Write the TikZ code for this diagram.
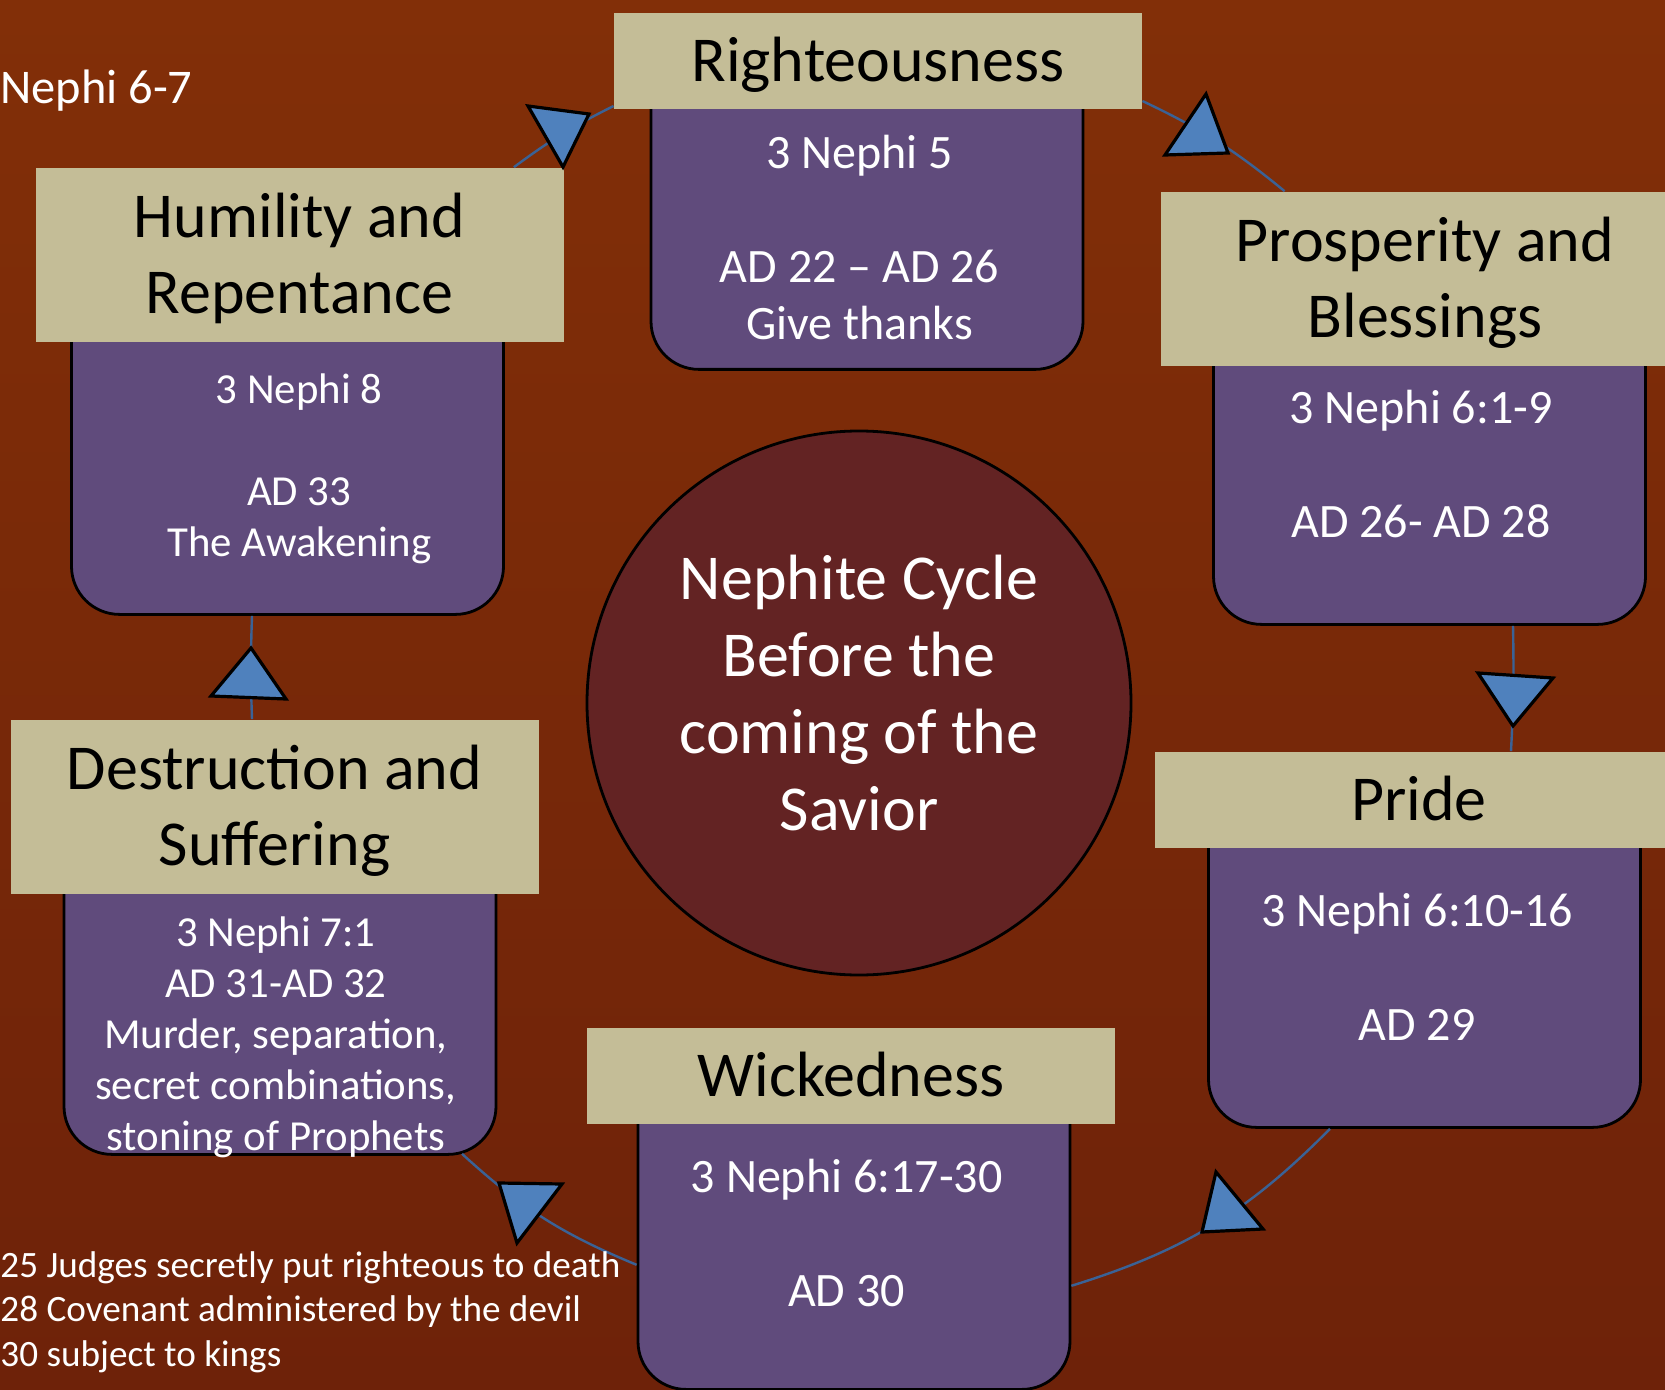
\documentclass[tikz,border=0pt]{standalone}
\usepackage{fontspec}
\setmainfont{Carlito}
\usepackage{tikz}
\usetikzlibrary{positioning}

\definecolor{bgtop}{RGB}{130,47,8}
\definecolor{bgbottom}{RGB}{110,34,9}
\definecolor{stagetan}{RGB}{196,189,151}
\definecolor{cardpurple}{RGB}{96,75,124}
\definecolor{cyclered}{RGB}{99,35,35}
\definecolor{lineblue}{RGB}{58,98,150}
\definecolor{tipblue}{RGB}{79,129,189}

% card body: height, first baseline, sideways shift, lines
\newcommand{\cardtext}[4]{\parbox[c][#1][t]{216pt}{\centering\leftskip=#3 plus 1fil\rule{0pt}{#2}#4}}

\begin{document}
\begin{tikzpicture}[x=0.5pt, y=-0.5pt]
\tikzstyle{stage} = [rectangle, fill=stagetan, text=black, minimum width=264pt, inner sep=0pt, text depth=1.5pt, align=center, font=\fontsize{32}{38.25}\selectfont]
\tikzstyle{card} = [rectangle, draw=black, line width=1.4pt, fill=cardpurple, rounded corners=24pt, inner sep=0pt, text=white, anchor=north, font=\fontsize{24}{28.5}\selectfont]
\tikzstyle{smalltext} = [font=\fontsize{21.4}{25.5}\selectfont]
\tikzstyle{cycleline} = [draw=lineblue, line width=1.2pt]
\tikzstyle{arrowtri} = [fill=tipblue, draw=black, line width=1.6pt, line join=miter]
\tikzstyle{note} = [text=white, inner sep=0pt, align=left]

\useasboundingbox (0,0) rectangle (1665,1390);
\shade[top color=bgtop, bottom color=bgbottom] (0,0) rectangle (1665,1390);

% cards
\node[card] (rightcard) at (867,49) {\cardtext{159.5pt}{59pt}{-7.4pt}{3 Nephi 5\\[\baselineskip]AD 22 -- AD 26\\Give thanks}};
\node[card] (prospcard) at (1429.5,306) {\cardtext{158.5pt}{58pt}{-8.5pt}{3 Nephi 6:1-9\\[\baselineskip]AD 26- AD 28}};
\node[card] (pridecard) at (1424.5,788) {\cardtext{169pt}{68.5pt}{-7.4pt}{3 Nephi 6:10-16\\[\baselineskip]AD 29}};
\node[card] (wickcard) at (854,1064) {\cardtext{162pt}{63.5pt}{-7.4pt}{3 Nephi 6:17-30\\[\baselineskip]AD 30}};
\node[card, smalltext] (destcard) at (280,834) {\cardtext{159.5pt}{55.75pt}{-4.2pt}{3 Nephi 7:1\\AD 31-AD 32\\Murder, separation,\\secret combinations,\\stoning of Prophets}};
\node[card, smalltext] (humcard) at (287.5,282) {\cardtext{165.5pt}{60.25pt}{11.7pt}{3 Nephi 8\\[\baselineskip]AD 33\\The Awakening}};

% titles
\node[stage, minimum height=48pt, above=-30pt of rightcard, xshift=5.5pt] (righteous) {Righteousness};
\node[stage, minimum height=87pt, above=-30pt of prospcard, xshift=-2.25pt] (prosperity) {Prosperity and\\Blessings};
\node[stage, minimum height=48pt, above=-30pt of pridecard, xshift=-2.75pt] (pride) {Pride};
\node[stage, minimum height=48pt, above=-30pt of wickcard, xshift=-1.5pt] (wickedness) {Wickedness};
\node[stage, minimum height=87pt, above=-30pt of destcard, xshift=-2.75pt] (destruction) {Destruction and\\Suffering};
\node[stage, minimum height=87pt, above=-30pt of humcard, xshift=6pt] (humility) {Humility and\\Repentance};

\node[circle, draw=black, line width=1.4pt, fill=cyclered, minimum size=272pt, inner sep=0pt, text=white, text depth=10.6pt, align=center, font=\fontsize{32}{38.5}\selectfont] (cycle) at (859,703) {Nephite Cycle\\Before the\\coming of the\\Savior};

% connectors
\draw[cycleline] ([xshift=-25pt]humility.north east) to[bend left=5] ([yshift=1.5pt]righteous.south west);
\draw[cycleline] ([yshift=4pt]righteous.south east) to[bend left=7] ([xshift=62pt]prosperity.north west);
\draw[cycleline] ([xshift=41.75pt]prospcard.south) to[bend left=2] ([xshift=46pt]pride.north);
\draw[cycleline] ([xshift=-47.25pt]pridecard.south) to[bend left=14] ([yshift=52.5pt]wickcard.south east);
\draw[cycleline] ([yshift=63pt]wickcard.south west) to[bend left=10] ([xshift=91pt,yshift=1pt]destcard.south);
\draw[cycleline] ([xshift=-11.25pt]destruction.north) to[bend left=2] ([xshift=-17.75pt]humcard.south);

\filldraw[arrowtri] (528,106) -- (589,114) -- (563,167) -- cycle;
\filldraw[arrowtri] (1206,94) -- (1228,153) -- (1165,155) -- cycle;
\filldraw[arrowtri] (1478,673) -- (1553,678) -- (1513,726) -- cycle;
\filldraw[arrowtri] (1216,1172) -- (1263,1229) -- (1202,1232) -- cycle;
\filldraw[arrowtri] (499,1183) -- (562,1184) -- (517,1243) -- cycle;
\filldraw[arrowtri] (251,648) -- (286,699) -- (211,696) -- cycle;

% side notes
\node[note, anchor=base west, font=\fontsize{24.2}{28}\selectfont] (chapters) at (0,104) {Nephi 6-7};
\node[note, anchor=north west, font=\fontsize{18.6}{22.3}\selectfont] (events) at (0,1251) {25 Judges secretly put righteous to death\\28 Covenant administered by the devil\\30 subject to kings};

\end{tikzpicture}
\end{document}
